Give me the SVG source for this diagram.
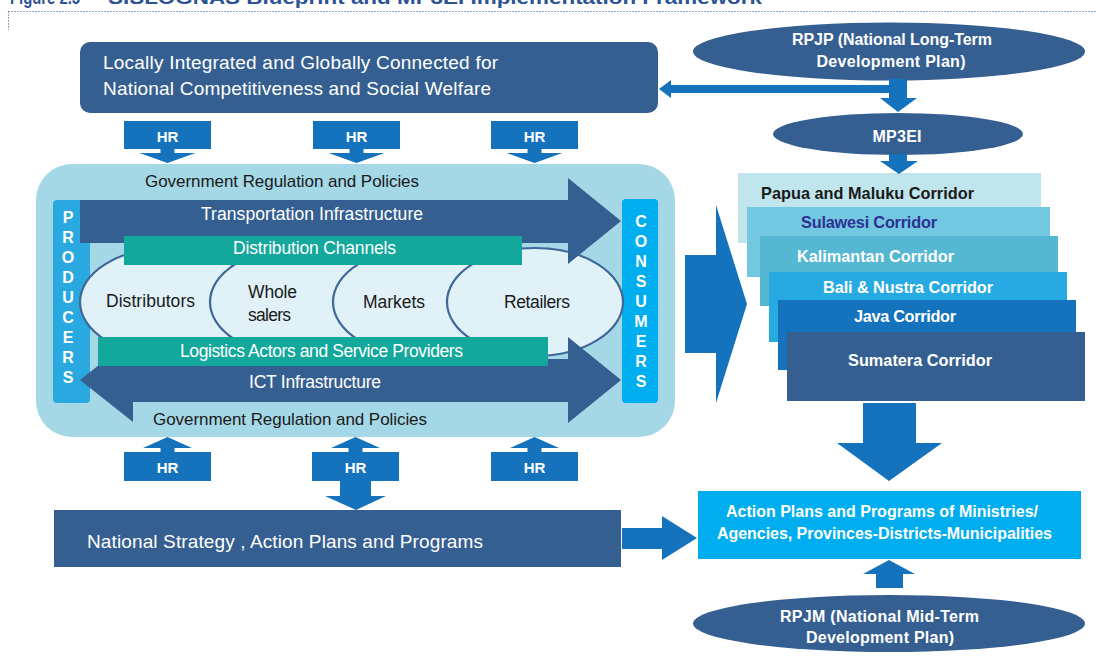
<svg xmlns="http://www.w3.org/2000/svg" width="1096" height="658" viewBox="0 0 1096 658">
<style>
.t{font-family:"Liberation Sans",Arial,sans-serif;}
.w{fill:#ffffff;}
.k{fill:#1a1a1a;}
.b{font-weight:bold;}
.dark{fill:#365f91;}
.mid{fill:#1473bc;}
.teal{fill:#14a89c;}
.ell{fill:#e0f1f7;stroke:#40679a;stroke-width:2.2;}
.c{text-anchor:middle;}
</style>
<rect width="1096" height="658" fill="#ffffff"/>
<g id="title">
<text class="t b" x="10" y="4" font-size="19" fill="#2e5395" textLength="70" lengthAdjust="spacingAndGlyphs">Figure 2.5</text>
<text class="t b" x="108" y="4" font-size="19" fill="#2e5395" textLength="654" lengthAdjust="spacingAndGlyphs">SISLOGNAS Blueprint and MP3EI Implementation Framework</text>
<line x1="8" y1="11.5" x2="1096" y2="11.5" stroke="#8ea2c4" stroke-width="1" stroke-dasharray="2,1"/>
<line x1="8.5" y1="11" x2="8.5" y2="30" stroke="#8ea2c4" stroke-width="1" stroke-dasharray="2,1"/>
</g>
<g id="vision">
<rect x="80" y="42" width="578" height="71" rx="10" class="dark"/>
<text class="t w" x="103" y="69" font-size="19" textLength="395">Locally Integrated and Globally Connected for</text>
<text class="t w" x="103" y="95" font-size="19" textLength="388">National Competitiveness and Social Welfare</text>
</g>
<g id="rpjp">
<ellipse cx="889" cy="51.5" rx="196" ry="29" class="dark"/>
<text class="t w b c" x="892" y="45" font-size="16" textLength="200">RPJP (National Long-Term</text>
<text class="t w b c" x="891" y="67" font-size="16" textLength="149">Development Plan)</text>
</g>
<g id="mp3ei">
<ellipse cx="898" cy="134" rx="125" ry="21" class="dark"/>
<text class="t w b c" x="897" y="142" font-size="16" textLength="49">MP3EI</text>
</g>
<g id="hr-top-1"><rect x="124" y="121" width="87" height="28" class="mid"/><text class="t w b c" x="167.5" y="142" font-size="15">HR</text></g>
<g id="hr-top-2"><rect x="313" y="121" width="87" height="28" class="mid"/><text class="t w b c" x="356.5" y="142" font-size="15">HR</text></g>
<g id="hr-top-3"><rect x="491" y="121" width="87" height="28" class="mid"/><text class="t w b c" x="534.5" y="142" font-size="15">HR</text></g>
<g id="logistics-panel">
<rect x="36" y="164" width="639" height="273" rx="36" fill="#a5d8e6"/>
<rect x="53" y="200" width="37" height="203" rx="4" fill="#29a9e0"/>
<rect x="622" y="199" width="36" height="204" rx="4" fill="#00aeef"/>
<ellipse cx="168" cy="302" rx="88" ry="54" class="ell"/>
<ellipse cx="298" cy="302" rx="88" ry="54" class="ell"/>
<ellipse cx="421" cy="302" rx="88" ry="54" class="ell"/>
<ellipse cx="535" cy="302" rx="88" ry="54" class="ell"/>
<polygon class="dark" points="80,200 568,200 568,178 621,221 568,264 568,243 80,243"/>
<polygon class="dark" points="80,380 133,338 133,359 568,359 568,337 621,380 568,423 568,402 133,402 133,422"/>
<rect x="124" y="236" width="398" height="29" class="teal"/>
<rect x="98" y="337" width="450" height="29" class="teal"/>
<text class="t k c" x="282" y="187" font-size="17" textLength="274">Government Regulation and Policies</text>
<text class="t w c" x="312" y="220" font-size="17.5" textLength="222">Transportation Infrastructure</text>
<text class="t w c" x="314.5" y="254" font-size="17.5" textLength="163">Distribution Channels</text>
<text class="t k c" x="150.5" y="307" font-size="17.5" textLength="89">Distributors</text>
<text class="t k" x="248" y="298" font-size="17.5" textLength="49">Whole</text>
<text class="t k" x="248" y="321" font-size="17.5" textLength="43">salers</text>
<text class="t k c" x="394" y="308" font-size="17.5" textLength="62">Markets</text>
<text class="t k c" x="537" y="308" font-size="17.5" textLength="66">Retailers</text>
<text class="t w c" x="321.5" y="357" font-size="17.5" textLength="283">Logistics Actors and Service Providers</text>
<text class="t w c" x="315" y="388" font-size="17.5" textLength="132">ICT Infrastructure</text>
<text class="t k c" x="290" y="425" font-size="17" textLength="274">Government Regulation and Policies</text>
<g class="t w b c" font-size="16">
<text x="68" y="223">P</text><text x="68" y="243">R</text><text x="68" y="263">O</text><text x="68" y="283">D</text><text x="68" y="303">U</text><text x="68" y="323">C</text><text x="68" y="343">E</text><text x="68" y="363">R</text><text x="68" y="383">S</text>
<text x="641" y="227">C</text><text x="641" y="247">O</text><text x="641" y="267">N</text><text x="641" y="287">S</text><text x="641" y="307">U</text><text x="641" y="327">M</text><text x="641" y="347">E</text><text x="641" y="367">R</text><text x="641" y="387">S</text>
</g>
</g>
<g id="corridors">
<g id="papua"><rect x="738" y="173" width="303" height="70" fill="#c0e5ed"/><text class="t b" x="761" y="199" font-size="16.3" fill="#1a1a1a" textLength="213">Papua and Maluku Corridor</text></g>
<g id="sulawesi"><rect x="747" y="207" width="303" height="70" fill="#72c8e1"/><text class="t b" x="801" y="228" font-size="16.3" fill="#2e3192" textLength="136">Sulawesi Corridor</text></g>
<g id="kalimantan"><rect x="760" y="236" width="298" height="70" fill="#55b7d2"/><text class="t w b" x="797" y="262" font-size="16.3" textLength="157">Kalimantan Corridor</text></g>
<g id="bali"><rect x="769" y="272" width="298" height="70" fill="#27a9e1"/><text class="t w b" x="823" y="292.5" font-size="16.3" textLength="170">Bali &amp; Nustra Corridor</text></g>
<g id="java"><rect x="778" y="300" width="298" height="70" fill="#1473bc"/><text class="t w b" x="854" y="322" font-size="16.3" textLength="102">Java Corridor</text></g>
<g id="sumatera"><rect x="787" y="332" width="298" height="69" fill="#365f91"/><text class="t w b" x="848" y="366" font-size="16.3" textLength="144">Sumatera Corridor</text></g>
</g>
<g id="hr-bottom-1"><rect x="124" y="452" width="87" height="29" class="mid"/><text class="t w b c" x="167.5" y="473" font-size="15">HR</text></g>
<g id="hr-bottom-2"><rect x="312" y="452" width="87" height="29" class="mid"/><text class="t w b c" x="355.5" y="473" font-size="15">HR</text></g>
<g id="hr-bottom-3"><rect x="491" y="452" width="87" height="29" class="mid"/><text class="t w b c" x="534.5" y="473" font-size="15">HR</text></g>
<g id="national-strategy">
<rect x="54" y="510" width="567" height="57" class="dark"/>
<text class="t w" x="87" y="548" font-size="19" textLength="396">National Strategy , Action Plans and Programs</text>
</g>
<g id="action-plans">
<rect x="698" y="491" width="383" height="68" fill="#00aeef"/>
<text class="t w b c" x="882" y="517" font-size="16" textLength="312">Action Plans and Programs of Ministries/</text>
<text class="t w b c" x="884.5" y="539" font-size="16" textLength="335">Agencies, Provinces-Districts-Municipalities</text>
</g>
<g id="rpjm">
<ellipse cx="889" cy="623.5" rx="196" ry="28.5" class="dark"/>
<text class="t w b c" x="879.5" y="622" font-size="16" textLength="199">RPJM (National Mid-Term</text>
<text class="t w b c" x="880" y="643" font-size="16" textLength="148">Development Plan)</text>
</g>
<g id="connectors" class="mid">
<polygon points="659,89 671,80 671,85 907,85 907,93 671,93 671,98"/>
<polygon points="889,79 907,79 907,98 917,98 898,112 880,98 889,98"/>
<polygon points="889,154 907,154 907,161 918,161 899,174 880,161 889,161"/>
<polygon points="160.5,149 174.5,149 174.5,153 195.5,153 167.5,163 139.5,153 160.5,153"/>
<polygon points="349.5,149 363.5,149 363.5,153 384.5,153 356.5,163 328.5,153 349.5,153"/>
<polygon points="527.5,149 541.5,149 541.5,153 562.5,153 534.5,163 506.5,153 527.5,153"/>
<polygon points="685,255 716,255 716,205 747,304 716,403 716,353 685,353"/>
<polygon points="863,403 916,403 916,443 942,443 889,481 837,443 863,443"/>
<polygon points="160.5,452 174.5,452 174.5,448 192,448 167.5,437 143,448 160.5,448"/>
<polygon points="348.5,452 362.5,452 362.5,448 380,448 355.5,437 331,448 348.5,448"/>
<polygon points="527.5,452 541.5,452 541.5,448 559,448 534.5,437 510,448 527.5,448"/>
<polygon points="340,481 371,481 371,496 386,496 356,510 325,496 340,496"/>
<polygon points="622,528 662,528 662,516 697,538 662,560 662,549 622,549"/>
<polygon points="876,588 903,588 903,574 915,574 889,560 863,574 876,574"/>
</g>
</svg>
